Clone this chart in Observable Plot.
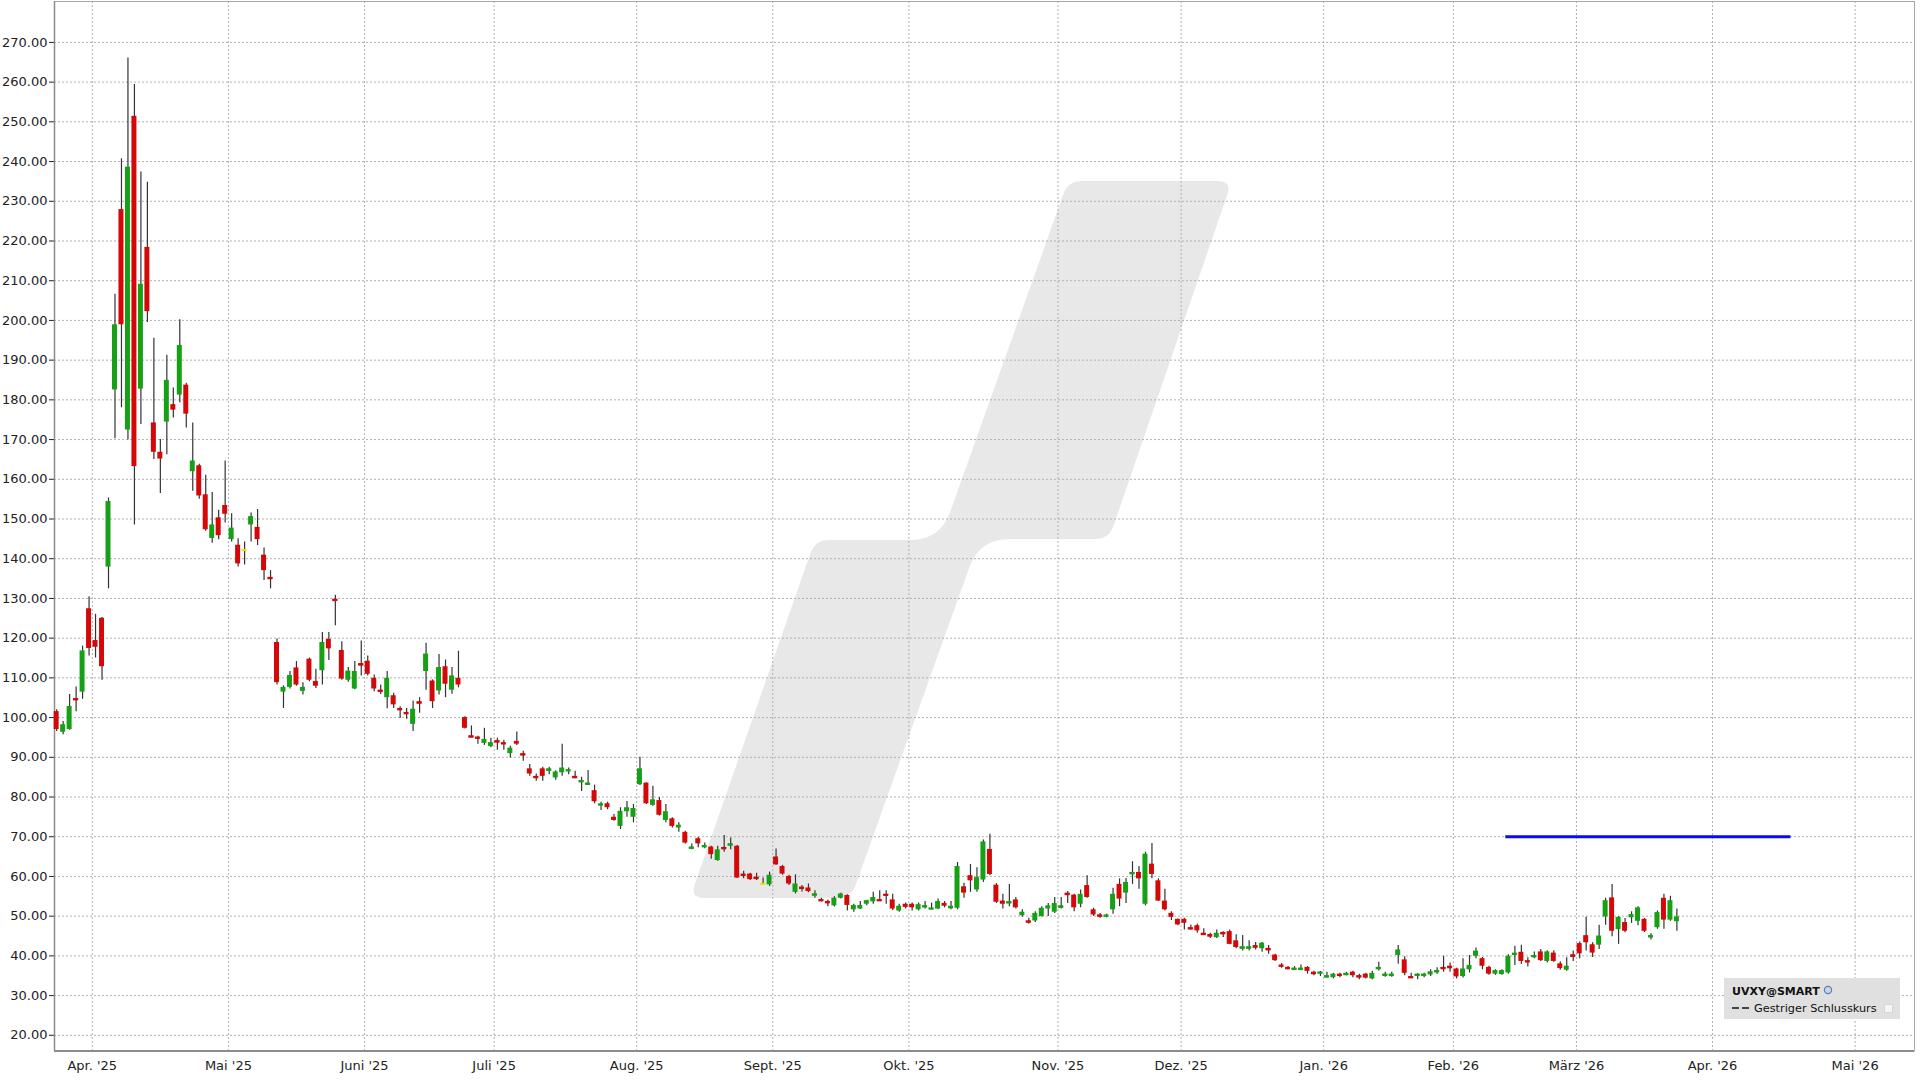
<!DOCTYPE html>
<html>
<head>
<meta charset="utf-8">
<script src="https://cdn.jsdelivr.net/npm/d3@7"></script>
<script src="https://cdn.jsdelivr.net/npm/@observablehq/plot@0.6"></script>
<style>
  html, body { margin: 0; padding: 0; background: #ffffff; }
  #chart { width: 1920px; height: 1080px; }
</style>
</head>
<body>
<div id="chart"></div>
<script>
// ---------- DATA ----------
const symbol = "UVXY@SMART";
const legendLabel = "Gestriger Schlusskurs";

// daily candles, 24 Mar 2025 .. 23 Mar 2026 (one value per trading day)
const open = [
  101.5,96.3,97,104.8,106.4,127.4,
  119.4,125,137.9,182.5,227.9,172.4,251.4,182.7,218.4,174.2,166.8,174.4,178.8,181.2,183.7,161.9,163.4,156.1,145.1,150.3,153.4,
  144.8,143.4,142.2,148.5,147.9,140.9,135.3,118.9,106.4,107.6,112.5,106.6,114.7,109.1,111.8,119.7,129.8,116.9,109.4,107.2,113.6,
  114.2,109.9,106.9,105,105.5,102.3,101.3,98.3,104,111.6,109.2,106.7,112.8,106.9,109.9,100,95.4,95.1,93.5,92.7,
  94.2,93.7,90.9,94,90.9,87.1,85.2,87.1,86.6,84.8,86.1,86.3,85.2,83.8,83.1,81.6,77.7,78.3,74.9,72.6,76.3,74.9,
  83.1,83.5,77.9,79.1,74.1,74.5,72.2,71.1,67,69.5,67.2,67.4,64,67.3,67.8,67.6,60.6,60.6,59.8,58.1,57.9,
  64.9,62.5,60,56,57.3,57.1,55.2,54.1,53.7,52.6,54.5,55.2,51.6,51.8,53,53.6,54.1,55.5,54.1,51.3,53,
  53,51.6,52.3,51.8,51.8,53.2,52,52,57.4,60.2,56.6,59.1,66.8,57.8,53.8,53.2,54.1,50.1,48.8,48.8,49.9,51.8,51,
  52.1,55.8,55.3,53,57.7,51.6,50.3,49.7,51.6,58,55.8,60.6,61,53,63.1,58.9,53.8,50.7,49.2,
  49.2,47.1,47.6,45.7,45.4,44.6,45.9,46.1,43.8,41.8,41.8,42.6,41.8,41.9,40.2,37.7,37.1,36.5,36.5,37.1,35.9,35.6,
  34.6,34.5,35.4,35.2,35.9,35,35.4,34.2,36.7,35,35,40.1,39,34.8,35,35,35.2,35.9,37.1,37.4,
  36.7,34.8,36.5,39.9,39.3,37.1,35.4,35.3,35.7,40.1,40.9,38.8,39.7,41,38.6,40.7,38,36.4,40.3,
  43.1,45.1,42.8,42.7,49.8,54.6,46.6,48.4,49.6,48.7,49.2,44.7,47.1,54.5,49,48.6
];
const high = [
  102,99,105.8,107.7,118,130.4,
  126,125.2,155.3,206.6,240.7,266.1,259.4,237.4,234.8,195.5,170,191.2,183,200.2,184.2,174.2,163.8,161,156.7,152.2,164.6,
  151.3,145,144.2,151.5,152.4,142.7,137,119.8,108,111.6,114.1,108.8,115,112.2,121.4,121.4,130.8,119.1,112.6,114.1,119.3,
  115.5,110.7,108.2,111.6,106.1,102.7,102.3,104.2,105,118.7,109.5,115.9,114.5,112.6,116.7,100.2,97.9,95.3,97.3,94.8,
  94.8,94.3,92.8,96.4,91.5,88.2,85.8,87.5,87.5,86.6,93.3,87.3,86.5,85,86.7,83,78.7,78.7,75.6,77.3,78.9,78.1,
  90,83.6,82.7,79.9,78.1,74.8,73.5,71.4,68.2,69.9,68.4,67.6,67.6,70.3,69.7,67.8,61.3,60.8,60.8,59.6,61.1,
  66.9,62.8,60.3,60.4,57.7,58.1,56.4,54.5,54.1,54.9,55.8,55.4,53,53.7,54,56,56.4,56.4,55.5,53,53.3,
  53.3,53.3,53.7,53.3,54.3,53.7,53.7,63.5,58.3,63,62.2,69.2,70.6,58.2,55.5,58,54.7,51.6,49.5,51.1,52.4,53.2,54.7,
  54.7,56.2,55.5,56.6,60.2,52,50.7,50.5,57,59.4,59.5,63.7,62.5,66.1,68.3,59.4,56.8,51.1,49.3,
  49.5,47.8,48,46.8,45.7,46.5,46.1,46.5,45.3,45.1,43.8,43.4,43.4,42.6,40.4,38.1,37.3,37.3,37.7,37.3,36.1,36.1,
  35.9,35.6,35.6,35.9,36.1,35.4,35.6,36.1,38.4,35.9,35.9,42.6,39.8,35.6,35.5,35.6,36.5,37,39.9,38.2,
  36.9,39.3,40.1,42,39.6,37.4,36.5,36.5,40.3,42.4,42.7,39.5,41,41.6,41.3,41.3,38.5,39.5,41.2,
  43.5,49.7,43.3,47.7,54.5,58,49.9,49.4,51.1,52.4,49.4,45.6,51.3,55.5,55,51.8
];
const low = [
  96.5,95.7,96.8,101.5,104.6,115.5,
  115,109.4,132.4,170.2,178,169.9,148.5,173.8,199.5,165,156.4,166.2,175.4,179.3,172.9,157,155,146.9,143.9,144.8,149,
  144.2,137.9,138.4,144.2,143.3,134.5,132.4,108.2,102.3,107.2,107.9,105.7,109,107.3,108.2,114.4,123.1,109.4,108.9,107,110.5,
  110.5,106.5,105.8,102.2,102.3,99.8,99.6,96.5,101.1,106.9,102.3,105.7,105,105.9,107.5,97.1,94.9,93.3,93,92.4,
  91.8,91.8,89.8,93,89,85.2,84,84,85.6,84.2,85.2,85.6,84.6,81.4,83,78.3,76.6,76.8,73.9,71.8,74.9,73.5,
  82.9,78.1,77.7,75.2,73.5,72.2,71.1,68.2,66.7,67.2,67,64.3,63.8,66.1,66.7,59.5,59.4,59,59,57.9,57.5,
  62.8,60.3,57.7,55.6,56.1,55.9,54.5,53.6,52.4,52.3,54.3,51.3,51,51.7,52.6,53,53.7,53,51.4,51,51.8,
  51.3,51.3,51.8,51.6,51.6,52.1,51.6,51.6,54.5,56,56,58.5,60.2,53.2,51.8,52.4,51.8,49.7,48,48.4,49.8,49.9,50.7,
  51.8,53.2,51.1,52.1,54.5,49.9,49.5,49.6,50.5,52.4,53.2,58,56.8,52.6,59.4,53.7,51.3,48.9,47.6,
  46.5,46.5,45.7,45.1,44.4,44.4,44.6,42.8,41.8,41.2,41.2,41.5,40.9,40.4,38.6,36.9,36.5,36.3,36.3,35.4,35,34.8,
  34.4,34.2,34.5,35,34.5,34,34.2,34,36.2,34.6,34.6,37.9,35,34.3,34,34.5,34.8,35.4,35.9,35.9,
  34.2,34.4,35.7,39.3,36.5,35.1,35.1,35.1,35.4,37.6,37.8,37.2,39.3,38.6,38.2,38.4,36.4,36.1,38.6,
  39.3,41.2,39.6,41.6,47.7,44.8,42.9,45.8,48.2,47.6,45.9,44,46.7,46.7,48.7,46.2
];
const close = [
  97,98.2,102.8,104.4,116.8,117.4,
  117.7,112.8,154.4,198.9,198.9,238.6,163.2,209.1,202.2,166.8,165.1,184.9,177.4,193.7,176.4,164.6,155.8,147.3,148.5,145.8,151.2,
  147.7,138.7,142.2,150.6,144.8,137,134.9,108.8,107.6,110.6,108.2,107.6,109.4,107.9,118.9,117.3,129.4,109.7,111.7,111.6,113.1,
  110.9,107.2,106.5,109.9,103.2,101.7,100.7,102.1,103.5,116,104,112.6,108.4,110.5,108.2,97.3,95,94.5,94.5,93.7,
  93.7,93.1,92.3,93.3,90.5,85.8,84.8,85.2,87.1,86.3,87.3,86.9,84.8,84.1,83.5,78.8,78.3,77.3,74.1,76.4,77.3,77.1,
  87.1,78.3,79.3,75.4,76.3,72.6,72.9,68.4,67.4,68.2,67.8,65.5,66.7,66.9,68.2,59.6,60,59.2,59.4,58.1,60.3,
  62.9,60.6,58.1,58.1,56.9,56.2,55.6,53.9,53.3,54.5,55.6,52.7,52.7,52.7,53.9,54.7,53.9,55.2,51.8,52.5,52.2,
  52.1,52.9,52.6,52,53.7,52.5,52.5,62.5,55.8,58.9,59.7,68.7,60.5,53.5,53,53.7,52.1,51,48.4,50.7,52,52.6,53.2,
  52.6,55.3,52.1,55.5,54.7,50.3,49.9,50.3,55.5,54.3,58.5,61,59.4,65.6,60.5,53.8,51.6,49.7,47.8,
  48.2,46.7,46.3,45.3,44.7,45.7,45.5,42.9,42.1,42.3,42.3,41.9,43.2,41.4,38.8,37.1,36.7,36.9,36.9,36.1,35.4,35.9,
  35,35.4,34.8,35.6,35,34.6,34.4,35.6,37.1,35.4,35.4,41.5,35.6,34.4,35.4,35.4,36,36.3,36.7,36.9,
  34.7,36.7,37.6,41.2,37.4,35.4,36.3,36.3,39.9,40.7,38.6,38.2,40.1,38.8,41,38.6,36.8,37.4,39.6,
  40.5,43.3,40.7,45,53.9,46.2,49.7,46.2,50.4,52.1,46.2,45.1,50.9,49,53.9,49.8
];

// x axis: month labels and their position (in trading-day slots)
const monthLabels = ["Apr. '25","Mai '25","Juni '25","Juli '25","Aug. '25","Sept. '25","Okt. '25",
                     "Nov. '25","Dez. '25","Jan. '26","Feb. '26","März '26","Apr. '26","Mai '26"];
const monthSlots  = [5.5, 26.5, 47.5, 67.5, 89.5, 110.5, 131.5, 154.5, 173.5, 195.5, 215.5, 234.5, 255.5, 277.5];

// y axis tick values
const yTicks = d3.range(20, 271, 10);

// horizontal level line (blue)
const levelLine = [{value: 70, fromSlot: 223.6, toSlot: 267.6}];

// ---------- BUILD ----------
const candles = open.map((o, i) => ({
  i, open: o, high: high[i], low: low[i], close: close[i],
  lo: Math.min(o, close[i]), hi: Math.max(o, close[i]),
  dir: close[i] > o ? "up" : close[i] < o ? "down" : "flat"
}));
const colors = {up: "#15a015", down: "#d40808", flat: "#e6e600"};
const halfBody = 0.385;
const thin = candles.filter(d => (d.hi - d.lo) < 0.55);

function roundedPath(pts, radii) {
  const n = pts.length; let s = "";
  for (let k = 0; k < n; k++) {
    const p = pts[(k - 1 + n) % n], v = pts[k], q = pts[(k + 1) % n], r = radii[k];
    const la = Math.hypot(p[0] - v[0], p[1] - v[1]), lb = Math.hypot(q[0] - v[0], q[1] - v[1]);
    const a = [v[0] + (p[0] - v[0]) / la * r, v[1] + (p[1] - v[1]) / la * r];
    const b = [v[0] + (q[0] - v[0]) / lb * r, v[1] + (q[1] - v[1]) / lb * r];
    s += (k === 0 ? "M" : "L") + a[0] + "," + a[1] + "Q" + v[0] + "," + v[1] + " " + b[0] + "," + b[1];
  }
  return s + "Z";
}

// decorative watermark logo (pixel layout)
function watermark() {
  const pts = [[690,898],[851,898],[979.5,539],[1109,539],[1232,181],[1068,181],[940.2,540],[815,540]];
  const radii = [14,14,30,14,14,14,30,14];
  const path = document.createElementNS("http://www.w3.org/2000/svg", "path");
  path.setAttribute("d", roundedPath(pts, radii));
  path.setAttribute("fill", "#e8e8e8");
  return path;
}

// legend box (pixel layout, inside plot area like the reference)
function legendBox() {
  const g = d3.create("svg:g").attr("font-family", "DejaVu Sans, sans-serif").attr("text-anchor", "start");
  g.append("rect").attr("x", 1724).attr("y", 978).attr("width", 176).attr("height", 41).attr("fill", "#e0e0e0");
  g.append("text").attr("x", 1732).attr("y", 994.5).attr("font-size", 11).attr("font-weight", "bold")
    .attr("text-anchor", "start").attr("fill", "#111").text(symbol);
  g.append("circle").attr("cx", 1828).attr("cy", 990).attr("r", 3.6).attr("fill", "#c8d6ea").attr("stroke", "#5b7fb3").attr("stroke-width", 1.2);
  g.append("line").attr("x1", 1732).attr("x2", 1749).attr("y1", 1008).attr("y2", 1008)
    .attr("stroke", "#111").attr("stroke-width", 1.6).attr("stroke-dasharray", "7,3");
  g.append("text").attr("x", 1754).attr("y", 1012.3).attr("font-size", 11.3).attr("text-anchor", "start")
    .attr("fill", "#111").text(legendLabel);
  g.append("rect").attr("x", 1884.5).attr("y", 1004.5).attr("width", 8).attr("height", 8)
    .attr("fill", "#f6f6f6").attr("stroke", "#d6d6d6");
  return g.node();
}

const labelOf = new Map(monthSlots.map((s, k) => [s, monthLabels[k]]));

const chart = Plot.plot({
  width: 1920,
  height: 1080,
  marginLeft: 54,
  marginRight: 6,
  marginTop: 1,
  marginBottom: 29.5,
  style: {fontFamily: "DejaVu Sans, sans-serif", fontSize: "13px", color: "#222", background: "#ffffff", overflow: "visible"},
  x: {domain: [-0.333, 286.66], ticks: monthSlots, tickFormat: d => labelOf.get(d), tickSize: 0, tickPadding: 10, label: null},
  y: {domain: [16.05, 280.3], ticks: yTicks, tickFormat: d => d.toFixed(2), tickSize: 5, tickPadding: 2, label: null},
  marks: [
    watermark,
    Plot.ruleY(yTicks, {stroke: "#b0b0b0", strokeDasharray: "2,2", strokeWidth: 1}),
    Plot.ruleX(monthSlots, {stroke: "#b0b0b0", strokeDasharray: "2,2", strokeWidth: 1}),
    Plot.frame({stroke: "#a8a8a8"}),
    Plot.ruleX([-0.333], {stroke: "#8c8c8c", strokeWidth: 1.5}),
    Plot.ruleY([16.05], {stroke: "#8c8c8c", strokeWidth: 2}),
    Plot.ruleY(levelLine, {y: "value", x1: "fromSlot", x2: "toSlot", stroke: "#0a0af0", strokeWidth: 3}),
    Plot.ruleX(candles, {x: "i", y1: "low", y2: "high", stroke: "#333333", strokeWidth: 1.2}),
    ...["up", "down", "flat"].map(k =>
      Plot.rect(candles.filter(d => d.dir === k), {
        x1: d => d.i - halfBody, x2: d => d.i + halfBody, y1: "lo", y2: "hi", fill: colors[k]
      })
    ),
    ...["up", "down", "flat"].map(k =>
      Plot.ruleY(thin.filter(d => d.dir === k), {
        y: d => (d.lo + d.hi) / 2, x1: d => d.i - halfBody, x2: d => d.i + halfBody, stroke: colors[k], strokeWidth: 2.2
      })
    ),
    legendBox
  ]
});
document.getElementById("chart").appendChild(chart);
</script>
</body>
</html>
